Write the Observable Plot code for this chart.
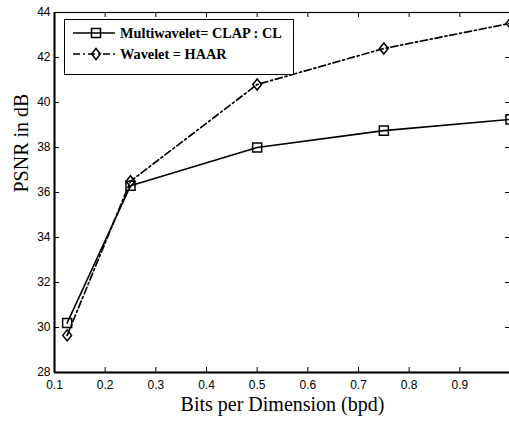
<!DOCTYPE html>
<html>
<head>
<meta charset="utf-8">
<script src="https://cdn.jsdelivr.net/npm/d3@7"></script>
<script src="https://cdn.jsdelivr.net/npm/@observablehq/plot@0.6"></script>
<style>
  html, body { margin: 0; padding: 0; background: #fff; }
  #wrap { position: relative; width: 509px; height: 421px; overflow: hidden; }
  #legend {
    position: absolute; left: 64px; top: 19px; width: 230px; height: 56px;
    border: 1.4px solid #000; background: #fff; box-sizing: border-box;
    font-family: "Liberation Serif", "Times New Roman", serif; font-weight: bold; font-size: 14.3px;
  }
  .row { position: absolute; left: 6px; height: 20px; display: flex; align-items: center; white-space: nowrap; }
  .row svg { display: block; margin-right: 3px; }
</style>
</head>
<body>
<div id="wrap">
  <div id="chart"></div>
  <div id="legend"></div>
</div>
<script>
const bpd = [0.125, 0.25, 0.5, 0.75, 1.0];
const multiwavelet = [30.2, 36.3, 38.0, 38.75, 39.25];
const wavelet = [29.65, 36.5, 40.8, 42.4, 43.52];
const seriesNames = ["Multiwavelet= CLAP : CL", "Wavelet = HAAR"];
const xTicks = [0.1, 0.2, 0.3, 0.4, 0.5, 0.6, 0.7, 0.8, 0.9, 1.0];
const yTicks = [28, 30, 32, 34, 36, 38, 40, 42, 44];
const xLabel = "Bits per Dimension (bpd)";
const yLabel = "PSNR in dB";

const multiData = bpd.map((x, i) => ({x, y: multiwavelet[i]}));
const waveData = bpd.map((x, i) => ({x, y: wavelet[i]}));

const W = 509, H = 421, mT = 12, mB = 49, mL = 54, mR = -1;
const innerH = H - mT - mB, innerW = W - mL - mR;
const tick = 5;
const dash = "7,3,2,3";

const diamond = {
  draw(ctx, size) {
    const r = Math.sqrt(size / Math.PI);
    const h = r * 1.12, w = r * 0.9;
    ctx.moveTo(0, -h); ctx.lineTo(w, 0); ctx.lineTo(0, h); ctx.lineTo(-w, 0); ctx.closePath();
  }
};

const chart = Plot.plot({
  width: W, height: H,
  marginTop: mT, marginBottom: mB, marginLeft: mL, marginRight: mR,
  x: {domain: [0.1, 1.0]},
  y: {domain: [28, 44]},
  style: {fontFamily: "Liberation Sans, Arial, sans-serif", fontSize: "12px", color: "#000", background: "#fff"},
  marks: [
    Plot.frame({stroke: "#000", strokeWidth: 1.2}),
    Plot.ruleX([0.1], {stroke: "#000", strokeWidth: 2}),
    Plot.ruleY([28], {stroke: "#000", strokeWidth: 2}),
    // inward ticks
    Plot.tickX(xTicks, {x: d => d, insetTop: innerH - tick, stroke: "#000", strokeWidth: 1}),
    Plot.tickX(xTicks, {x: d => d, insetBottom: innerH - tick, stroke: "#000", strokeWidth: 1}),
    Plot.tickY(yTicks, {y: d => d, insetRight: innerW - tick, stroke: "#000", strokeWidth: 1}),
    Plot.tickY(yTicks, {y: d => d, insetLeft: innerW - tick, stroke: "#000", strokeWidth: 1}),
    Plot.axisX(xTicks.filter(d => d < 1), {anchor: "bottom", tickSize: 0, tickPadding: 8, tickFormat: d => d.toFixed(1), label: null, fontSize: 12}),
    Plot.axisY(yTicks, {anchor: "left", tickSize: 0, tickPadding: 4, tickFormat: d => String(d), label: null, fontSize: 12}),
    Plot.text([xLabel], {frameAnchor: "bottom", dy: 38, fontFamily: "Liberation Serif, Times New Roman, serif", fontSize: 20, fill: "#000"}),
    Plot.text([yLabel], {frameAnchor: "left", rotate: -90, dx: -33, fontFamily: "Liberation Serif, Times New Roman, serif", fontSize: 20, fill: "#000"}),
    Plot.line(multiData, {x: "x", y: "y", stroke: "#000", strokeWidth: 1.7}),
    Plot.line(waveData, {x: "x", y: "y", stroke: "#000", strokeWidth: 1.7, strokeDasharray: dash}),
    Plot.dot(multiData, {x: "x", y: "y", symbol: "square", r: 5.1, fill: "none", stroke: "#000", strokeWidth: 1.5}),
    Plot.dot(waveData, {x: "x", y: "y", symbol: diamond, r: 4.9, fill: "none", stroke: "#000", strokeWidth: 1.5})
  ]
});
document.getElementById("chart").appendChild(chart);

// legend
const legend = document.getElementById("legend");
const styles = [
  {dash: null, sym: d3.symbolSquare, r: 5.1},
  {dash: dash, sym: diamond, r: 4.9}
];
seriesNames.forEach((name, i) => {
  const row = document.createElement("div");
  row.className = "row";
  row.style.top = (i === 0 ? 3 : 24) + "px";
  const svg = d3.create("svg").attr("width", 46).attr("height", 20);
  svg.append("line").attr("x1", 2).attr("x2", 44).attr("y1", 10).attr("y2", 10)
    .attr("stroke", "#000").attr("stroke-width", 1.7)
    .attr("stroke-dasharray", styles[i].dash);
  svg.append("path").attr("transform", "translate(25,10)")
    .attr("d", d3.symbol(styles[i].sym, Math.PI * styles[i].r ** 2)())
    .attr("fill", "none").attr("stroke", "#000").attr("stroke-width", 1.5);
  row.appendChild(svg.node());
  const t = document.createElement("span");
  t.textContent = name;
  row.appendChild(t);
  legend.appendChild(row);
});
</script>
</body>
</html>
